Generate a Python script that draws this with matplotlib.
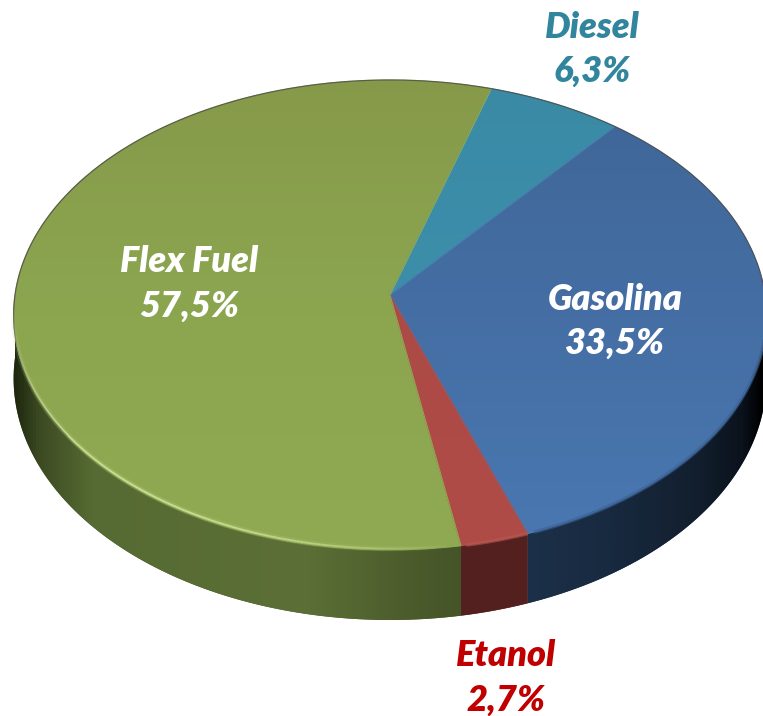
import numpy as np
import matplotlib
matplotlib.use("Agg")
import matplotlib.pyplot as plt
from matplotlib.colors import LinearSegmentedColormap
from matplotlib.patches import Polygon
from matplotlib.transforms import Transform

labels = ["Diesel", "Gasolina", "Etanol", "Flex Fuel"]
values = [6.3, 33.5, 2.7, 57.5]
label_colors = ["#31859C", "white", "#C00000", "white"]
label_xy = [(592, 27), (615, 299), (506, 656), (189, 262)]

# top face colours, top of picture -> bottom of picture
top_colors = [
    ["#3a8aa6", "#3f93ad"],
    ["#3f6596", "#4a78b2"],
    ["#a84844", "#b04c47"],
    ["#86994a", "#8ca650", "#90a953"],
]
# wall colours, left -> right of picture
wall_stops = [0.0, 0.02, 0.05, 0.12, 0.40, 0.55, 0.69, 0.80, 0.92, 0.975, 1.0]
wall_colors = [
    None,
    ["#1d3450"] * 5 + ["#1d3450", "#1c3049", "#182a40", "#121e2d", "#0a121c", "#000000"],
    ["#53201f"] * 11,
    ["#10180a", "#1f2a10", "#3c4a22", "#566b33", "#5b6f36", "#4a5a2b", "#3f4c24", "#3f4c24", "#3f4c24", "#3f4c24", "#3f4c24"],
]

# where the disc lands on the canvas (px)
CX, CY = 390, 295
RX, RY = 375, 233.3
TILT = 0.085
DEPTH_SIDE, DEPTH_FRONT = 63, 70


class DiscPerspective(Transform):
    input_dims = 2
    output_dims = 2
    has_inverse = False

    def transform_non_affine(self, xy):
        xy = np.asarray(xy, dtype=float)
        w = 1 + TILT * xy[:, 1]
        return np.column_stack((CX + RX * xy[:, 0] / w, CY - RY * xy[:, 1] / w))


def arc(t1, t2, n=200):
    t = np.radians(np.linspace(t1, t2, n))
    return np.column_stack((np.cos(t), np.sin(t)))


plt.rcParams["font.family"] = ["Lato", "DejaVu Sans"]

fig = plt.figure(figsize=(7.63, 7.16), dpi=100)
ax = fig.add_axes([0, 0, 1, 1])

persp = DiscPerspective()
wedges, _ = ax.pie(values, startangle=73.0, counterclock=False)

W, H = 763, 716
vgrad = np.linspace(0, 1, 256)[:, None]
hgrad = np.linspace(0, 1, 512)[None, :]

for i, wedge in enumerate(wedges):
    # side wall, front half only
    t1, t2 = max(wedge.theta1, -180), min(wedge.theta2, 0)
    if t1 < t2:
        disc = arc(t1, t2)
        top = persp.transform(disc)
        drop = DEPTH_SIDE + (DEPTH_FRONT - DEPTH_SIDE) * np.abs(disc[:, 1])
        bottom = (top + np.column_stack((np.zeros(len(top)), drop)))[::-1]
        wall = Polygon(np.vstack((top, bottom)), closed=True, facecolor=wall_colors[i][5],
                       edgecolor="none", zorder=1)
        ax.add_patch(wall)
        cmap = LinearSegmentedColormap.from_list(f"wall{i}", list(zip(wall_stops, wall_colors[i])))
        im = ax.imshow(hgrad, cmap=cmap, extent=(0, W, H, 0), aspect="auto", zorder=2)
        im.set_clip_path(wall)

for i, wedge in enumerate(wedges):
    wedge.set_transform(persp + ax.transData)
    wedge.set_facecolor("none")
    wedge.set_edgecolor(top_colors[i][-1])
    wedge.set_linewidth(0.7)
    wedge.set_zorder(4)
    cmap = LinearSegmentedColormap.from_list(f"top{i}", top_colors[i])
    im = ax.imshow(vgrad, cmap=cmap, extent=(0, W, 560, 70), aspect="auto", zorder=3)
    im.set_clip_path(wedge)

# thin dark outline along the back of the disc
pts = persp.transform(arc(-20, 215, 400))
ax.plot(pts[:, 0], pts[:, 1], color="#4a4a44", lw=0.9, alpha=0.8, zorder=5)

# soft rim highlight on the front of the green slice
rim = persp.transform(arc(183, 279, 200))
env = np.sin(np.linspace(0, np.pi, len(rim) - 1)) ** 0.8
for j in range(len(rim) - 1):
    seg = rim[j:j + 2] - [0, 1.5]
    ax.plot(seg[:, 0], seg[:, 1], color="#a9c46a", lw=4, alpha=0.4 * env[j], zorder=5,
            solid_capstyle="butt")
    ax.plot(seg[:, 0], seg[:, 1], color="#d9eaa6", lw=1.3, alpha=0.8 * env[j], zorder=6,
            solid_capstyle="butt")

# same soft edge on the other front slices
for t1, t2, col in [(281, 289.5, "#b85a52"), (291, 355, "#3a5f92")]:
    pts = persp.transform(arc(t1, t2, 80))
    ax.plot(pts[:, 0], pts[:, 1], color=col, lw=2.5, alpha=0.6, zorder=5)

for name, val, col, (x, y) in zip(labels, values, label_colors, label_xy):
    ax.text(x, y, name, color=col, fontsize=26, fontweight="heavy", fontstyle="italic",
            ha="center", va="center", zorder=8)
    ax.text(x, y + 44, f"{val:.1f}%".replace(".", ","), color=col, fontsize=26,
            fontweight="heavy", fontstyle="italic", ha="center", va="center", zorder=8)

ax.set_xlim(0, W)
ax.set_ylim(H, 0)
ax.set_aspect("auto")
ax.axis("off")

fig.savefig("out.png", dpi=100, facecolor="white")
